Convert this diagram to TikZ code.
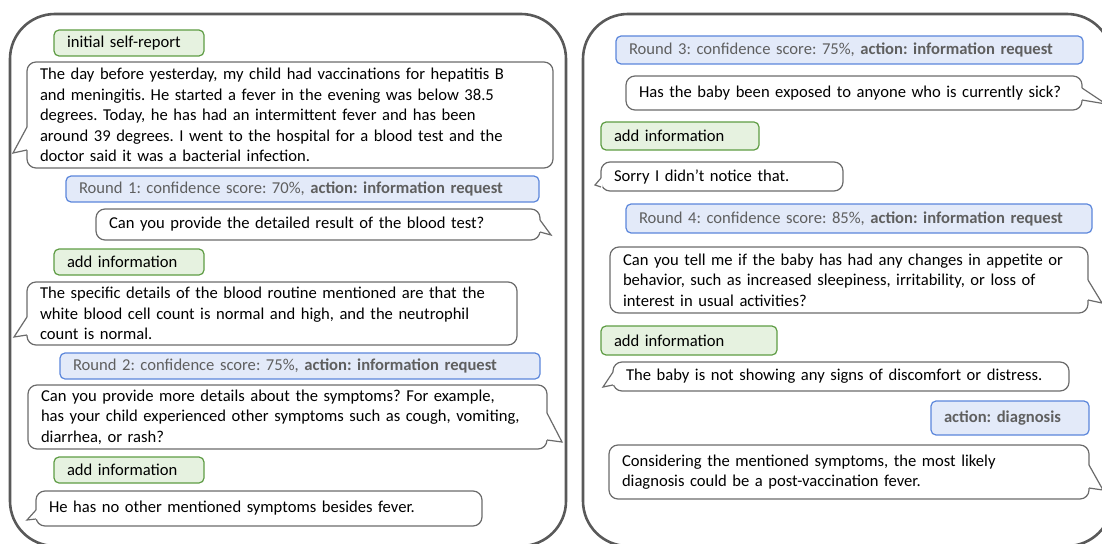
\documentclass[tikz,border=0pt]{standalone}
\usepackage{fontspec}
\setmainfont{Carlito}
\usepackage{tikz}
\usetikzlibrary{calc}
\frenchspacing
\hyphenpenalty=10000
\definecolor{panelgray}{HTML}{595959}
\definecolor{linegray}{HTML}{6B6B6B}
\definecolor{greenfill}{HTML}{E6F2E0}
\definecolor{greenline}{HTML}{5E9C44}
\definecolor{bluefill}{HTML}{E3EAF9}
\definecolor{blueline}{HTML}{5B86DB}
\definecolor{bluetext}{HTML}{5F5F5F}
\newcommand\bubble[6]{ % speech bubble: name, x, y, width, height, text
    \node[bubblebox, minimum width=#4, text width=#4-26, minimum height=#5] (#1) at (#2,#3) {#6};
}
\newcommand\tagbox[7]{ % label box: name, style, x, y, width, height, text
    \node[#2, minimum width=#5, text width=#5-26, minimum height=#6] (#1) at (#3,#4) {#7};
}
\newcommand\tailw[4]{ % tail on the left: node, upper y, lower y, tip
    \fill[white] ($(#1.west |- 0,#2)+(1.5,0)$) -- (#1.west |- 0,#2) -- (#4) -- (#1.west |- 0,#3) -- ($(#1.west |- 0,#3)+(1.5,0)$) -- cycle;
    \draw[tailline] (#1.west |- 0,#2) -- (#4) -- (#1.west |- 0,#3);
}
\newcommand\taile[4]{ % tail on the right: node, upper y, lower y, tip
    \fill[white] ($(#1.east |- 0,#2)+(-1.5,0)$) -- (#1.east |- 0,#2) -- (#4) -- (#1.east |- 0,#3) -- ($(#1.east |- 0,#3)+(-1.5,0)$) -- cycle;
    \draw[tailline] (#1.east |- 0,#2) -- (#4) -- (#1.east |- 0,#3);
}
\tikzset{
    textfont/.style={font=\fontsize{16.6}{20.5}\selectfont},
    boxbase/.style={textfont, anchor=north west, align=left, inner xsep=13, inner ysep=0, outer sep=0},
    bubblebox/.style={boxbase, draw=linegray, fill=white, line width=1.2, rounded corners=9},
    greenbox/.style={boxbase, draw=greenline, fill=greenfill, line width=1.2, rounded corners=5},
    bluebox/.style={boxbase, draw=blueline, fill=bluefill, line width=1.2, rounded corners=5, text=bluetext},
    tailline/.style={draw=linegray, line width=1.2, line join=miter},
    panel/.style={draw=panelgray, line width=2.6, rounded corners=45}
}

\begin{document}
\begin{tikzpicture}[x=1pt, y=-1pt]
        \useasboundingbox (0,0) rectangle (1102,543);
        \draw[panel] (10,14) rectangle (566,546);
        \draw[panel] (583,14) rectangle (1112,546);
        % left dialogue
        \tagbox{srep}{greenbox}{54}{30}{150}{26}{initial self-report}
        \bubble{q0}{27}{62}{526}{106}{The day before yesterday, my child had vaccinations for hepatitis B\\ and meningitis. He started a fever in the evening was below 38.5\\ degrees. Today, he has had an intermittent fever and has been\\ around 39 degrees. I went to the hospital for a blood test and the\\ doctor said it was a bacterial infection.}
        \tagbox{r1}{bluebox}{66}{176}{473}{26}{Round 1: confidence score: 70\%, \textbf{action: information request}}
        \bubble{a1}{96}{209}{444}{31}{Can you provide the detailed result of the blood test?}
        \tagbox{add1}{greenbox}{54}{249}{150}{26}{add information}
        \bubble{q1}{27}{282}{490}{63}{The specific details of the blood routine mentioned are that the\\ white blood cell count is normal and high, and the neutrophil\\ count is normal.}
        \tagbox{r2}{bluebox}{60}{353}{480}{26}{Round 2: confidence score: 75\%, \textbf{action: information request}}
        \bubble{a2}{28}{385}{519}{64}{Can you provide more details about the symptoms? For example,\\ has your child experienced other symptoms such as cough, vomiting,\\ diarrhea, or rash?}
        \tagbox{add2}{greenbox}{54}{457}{150}{26}{add information}
        \bubble{q2}{36}{491}{446}{35}{He has no other mentioned symptoms besides fever.}
        % right dialogue
        \tagbox{r3}{bluebox}{616}{36}{467}{28}{Round 3: confidence score: 75\%, \textbf{action: information request}}
        \bubble{a3}{626}{76}{456}{34}{Has the baby been exposed to anyone who is currently sick?}
        \tagbox{add3}{greenbox}{601}{122}{158}{28}{add information}
        \bubble{q3}{601}{162}{242}{29}{Sorry I didn’t notice that.}
        \tagbox{r4}{bluebox}{626}{204}{466}{29}{Round 4: confidence score: 85\%, \textbf{action: information request}}
        \bubble{a4}{610}{247}{478}{66}{Can you tell me if the baby has had any changes in appetite or\\ behavior, such as increased sleepiness, irritability, or loss of\\ interest in usual activities?}
        \tagbox{add4}{greenbox}{601}{326}{176}{29}{add information}
        \bubble{q4}{613}{362}{456}{29}{The baby is not showing any signs of discomfort or distress.}
        \tagbox{dx}{bluebox}{931}{401}{158}{34}{\textbf{action: diagnosis}}
        \bubble{a5}{609}{445}{480}{54}{Considering the mentioned symptoms, the most likely\\ diagnosis could be a post-vaccination fever.}
        % bubble tails
        \tailw{q0}{127}{150}{13,153};
        \taile{a1}{220}{232}{551,235};
        \tailw{q1}{317}{335}{14,337};
        \taile{a2}{413}{440}{562,442};
        \tailw{q2}{510}{519}{27,520};
        \taile{a3}{88}{100}{1106,104};
        \tailw{q3}{178}{187}{595,185};
        \taile{a4}{280}{300}{1102,303};
        \tailw{q4}{372}{385}{603,387};
        \taile{a5}{465}{488}{1103,490};
    \end{tikzpicture}
\end{document}
